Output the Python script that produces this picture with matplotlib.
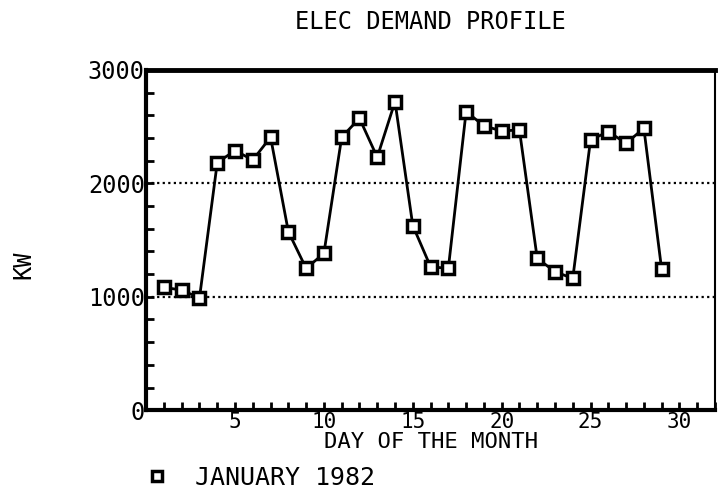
import matplotlib
matplotlib.use("Agg")
import matplotlib.pyplot as plt
from matplotlib.lines import Line2D
from matplotlib.ticker import MultipleLocator

# daily electric demand, January 1982
days = list(range(1, 30))
kw = [1083, 1059, 990, 2183, 2289, 2206, 2407, 1574, 1250, 1383,
      2407, 2574, 2230, 2721, 1628, 1265, 1250, 2633, 2507, 2462,
      2471, 1339, 1221, 1162, 2383, 2456, 2353, 2486, 1242]
series_name = "JANUARY 1982"
grid_levels = [1000, 2000]

plt.rcParams['font.family'] = 'DejaVu Sans Mono'

fig = plt.figure(figsize=(7.2, 4.96), dpi=100)
ax = fig.add_axes([0.203, 0.173, 0.790, 0.686])

ax.plot(days, kw, color='black', lw=2.0, marker='s', markersize=8.5,
        markerfacecolor='white', markeredgecolor='black', markeredgewidth=2.5)

for lvl in grid_levels:
    ax.axhline(lvl, color='black', lw=1.6, ls=(0, (1, 1.5)), zorder=0)

ax.set_xlim(0, 32)
ax.set_ylim(0, 3000)
ax.xaxis.set_major_locator(MultipleLocator(5))
ax.xaxis.set_minor_locator(MultipleLocator(1))
ax.yaxis.set_major_locator(MultipleLocator(1000))
ax.yaxis.set_minor_locator(MultipleLocator(200))
ax.set_xticks(range(5, 31, 5))

ax.tick_params(axis='both', which='both', direction='in', width=2)
ax.tick_params(axis='x', which='both', length=6, pad=1, labelsize=15)
ax.tick_params(axis='y', which='both', length=6, pad=1, labelsize=17)

ax.spines['top'].set_linewidth(3.5)
ax.spines['left'].set_linewidth(3)
ax.spines['bottom'].set_linewidth(3)
ax.spines['right'].set_linewidth(1.5)

ax.set_xlabel("DAY OF THE MONTH", fontsize=16, labelpad=0)
ax.set_ylabel("KW", fontsize=17)
ax.yaxis.set_label_coords(-0.195, 0.426)
fig.text(0.598, 0.955, "ELEC DEMAND PROFILE", ha='center', va='center', fontsize=17)

handle = Line2D([], [], ls='none', marker='s', markersize=6.5,
                markerfacecolor='white', markeredgecolor='black', markeredgewidth=2.5)
fig.legend([handle], [series_name], loc='center left', bbox_to_anchor=(0.17, 0.036),
           frameon=False, fontsize=18, handletextpad=1.0, handlelength=1.0)

fig.savefig("out.png", dpi=100)
